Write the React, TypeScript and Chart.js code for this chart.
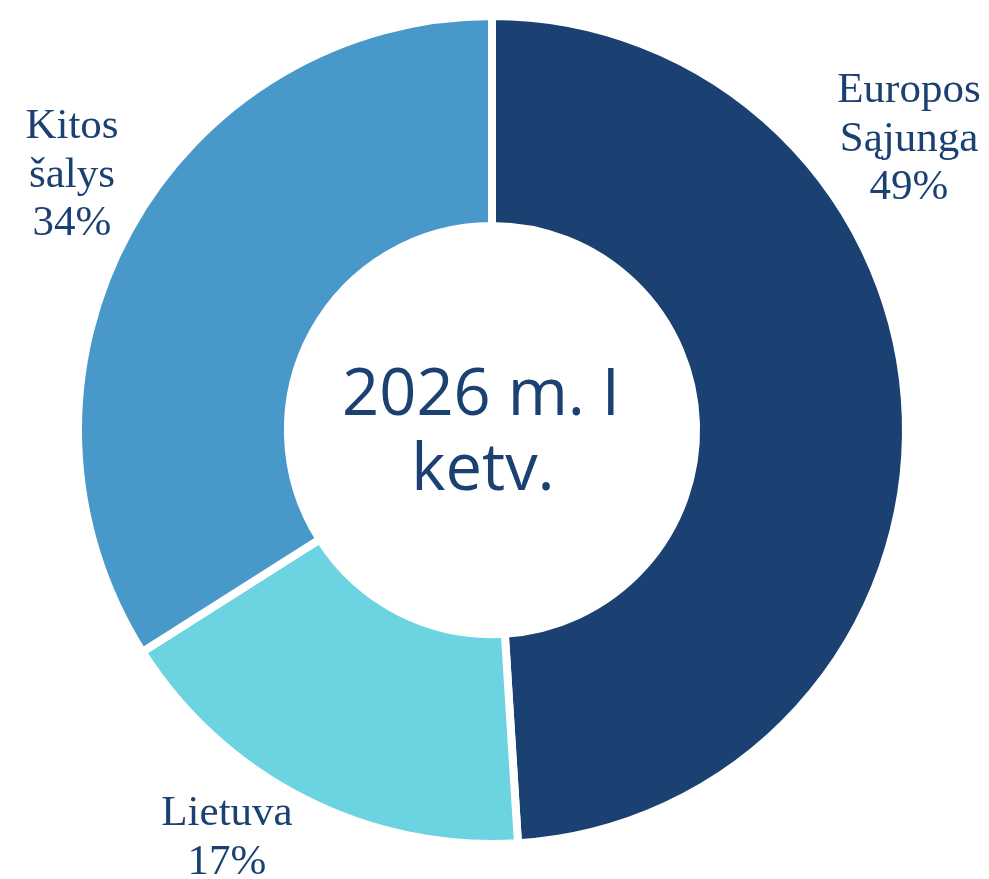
import { useEffect, useRef } from "react";
import { Chart, registerables } from "chart.js";

Chart.register(...registerables);

// ---- data ----
const categories = ["Europos Sąjunga", "Lietuva", "Kitos šalys"];
const labelLines = [["Europos", "Sąjunga"], ["Lietuva"], ["Kitos", "šalys"]];
const shares = [49, 17, 34];
const centerLines = ["2026 m. I", "ketv."];

// ---- styles ----
const segmentColors = ["#1A4171", "#6BD4E0", "#4898CA"];
const textColor = "#1A4171";
const labelFont = "43px 'Liberation Serif', serif";
const centerFont = "500 65px 'Open Sans', sans-serif";
// label anchors relative to doughnut centre (first baseline, centred text)
const labelOffsets = [
  { dx: 417, dy: -328 },
  { dx: -265, dy: 395 },
  { dx: -420, dy: -292 },
];
const labelLineHeight = 48.5;

const textPlugin = {
  id: "doughnutTexts",
  afterDraw(chart: any) {
    const meta = chart.getDatasetMeta(0);
    const first = meta.data[0];
    if (!first) return;
    const cx = first.x;
    const cy = first.y;
    const ctx = chart.ctx;
    ctx.save();
    ctx.fillStyle = textColor;
    ctx.textAlign = "center";
    ctx.textBaseline = "alphabetic";
    ctx.font = labelFont;
    shares.forEach((v, i) => {
      const lines = [...labelLines[i], `${v}%`];
      const off = labelOffsets[i];
      lines.forEach((t, j) => {
        ctx.fillText(t, cx + off.dx, cy + off.dy + j * labelLineHeight);
      });
    });
    ctx.font = centerFont;
    ctx.fillText(centerLines[0], cx - 11, cy - 15);
    ctx.fillText(centerLines[1], cx - 9, cy + 60);
    ctx.restore();
  },
};

export default function App() {
  const ref = useRef<HTMLCanvasElement | null>(null);
  useEffect(() => {
    if (!ref.current) return;
    const chart = new Chart(ref.current, {
      type: "doughnut",
      data: {
        labels: categories,
        datasets: [
          {
            data: shares,
            backgroundColor: segmentColors,
            borderColor: "#ffffff",
            borderWidth: 8,
            radius: 414,
          } as any,
        ],
      },
      options: {
        responsive: false,
        animation: false,
        cutout: "49.3%",
        rotation: 0,
        layout: { padding: { left: 0, right: 5, top: 0, bottom: 19 } },
        plugins: {
          legend: { display: false },
          tooltip: { enabled: false },
        },
      } as any,
      plugins: [textPlugin],
    });
    const fonts: any = (document as any).fonts;
    if (fonts && fonts.load) {
      Promise.all([fonts.load(labelFont), fonts.load(centerFont)])
        .then(() => chart.draw())
        .catch(() => {});
    }
    return () => chart.destroy();
  }, []);
  return (
    <div style={{ position: "absolute", left: 0, top: 0, width: 989, height: 879, background: "#fff" }}>
      <canvas ref={ref} width={989} height={879} />
    </div>
  );
}
